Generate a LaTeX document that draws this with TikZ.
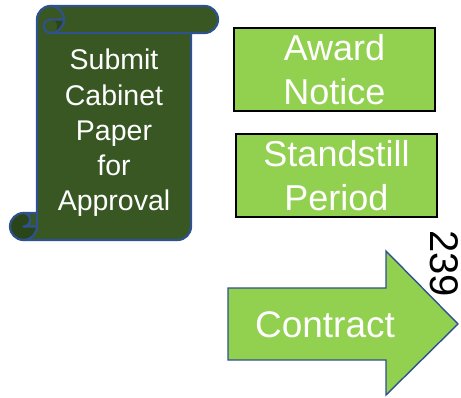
\documentclass[tikz,border=0pt]{standalone}
\usepackage{fontspec}
\setmainfont{Liberation Sans}
\definecolor{scrollgreen}{HTML}{385723}
\definecolor{scrolldark}{HTML}{2B451B}
\definecolor{litegreen}{HTML}{92D050}
\definecolor{edgeblue}{HTML}{2F528F}
\tikzset{
  scrollline/.style={draw=edgeblue,line width=2.2pt,line join=round},
  greenbox/.style={draw=black,line width=2pt,fill=litegreen,text=white,
    minimum width=201pt,minimum height=83pt,inner sep=0pt,align=center,
    font=\fontsize{36}{43.5}\selectfont},
  bigtext/.style={text=white,inner sep=0pt,align=center},
}
\begin{document}
\begin{tikzpicture}[x=1pt,y=1pt]
\useasboundingbox (0,0) rectangle (461,397);
% scroll body
\fill[scrollgreen] (37,184) -- (37,377.5) arc[start angle=180,end angle=90,radius=13.5pt]
  -- (204.5,391) arc[start angle=90,end angle=-90,radius=13.5pt]
  -- (191,364) -- (191,170.5) arc[start angle=0,end angle=-90,radius=13.5pt]
  -- (23.5,157) arc[start angle=-90,end angle=-270,radius=13.5pt] -- cycle;
% darker curls
\fill[scrolldark] (64,377.5) arc[start angle=0,end angle=-90,radius=13.5pt]
  arc[start angle=-90,end angle=90,radius=6.75pt] -- cycle;
\fill[scrolldark] (37,170.5) arc[start angle=0,end angle=-270,radius=13.5pt]
  arc[start angle=90,end angle=-90,radius=6.75pt] -- cycle;
% outlines
\draw[scrollline] (37,184) -- (37,377.5) arc[start angle=180,end angle=90,radius=13.5pt]
  -- (204.5,391) arc[start angle=90,end angle=-90,radius=13.5pt]
  -- (191,364) -- (191,170.5) arc[start angle=0,end angle=-90,radius=13.5pt]
  -- (23.5,157) arc[start angle=-90,end angle=-270,radius=13.5pt] -- cycle;
\draw[scrollline] (50.5,391) arc[start angle=90,end angle=-90,radius=13.5pt]
  arc[start angle=-90,end angle=-270,radius=6.75pt] -- (64,377.5);
\draw[scrollline] (191,364) -- (50.5,364);
\draw[scrollline] (23.5,184) arc[start angle=90,end angle=-90,radius=6.75pt] -- (37,170.5);
\draw[scrollline] (23.5,157) arc[start angle=-90,end angle=0,radius=13.5pt] -- (37,184);
\node[bigtext,font=\fontsize{28.5}{35.2}\selectfont] (cab) at (114,264)
  {Submit\\Cabinet\\Paper\\for\\Approval};
% boxes
\node[greenbox] (award) at (334.5,327.5) {Award\\Notice};
\node[greenbox] (stand) at (336.5,221.5) {Standstill\\Period};
% contract arrow
\draw[fill=litegreen,draw=edgeblue,line width=1.4pt,line join=miter]
  (228,109) -- (386,109) -- (386,146) -- (458,73) -- (386,2) -- (386,37) -- (228,37) -- cycle;
\node[bigtext,font=\fontsize{37}{43}\selectfont,anchor=base] (contract) at (325,60) {Contract};
\node[inner sep=0pt,rotate=-90,font=\fontsize{40}{46}\selectfont] (num) at (444.5,133.5) {239};
\end{tikzpicture}
\end{document}
